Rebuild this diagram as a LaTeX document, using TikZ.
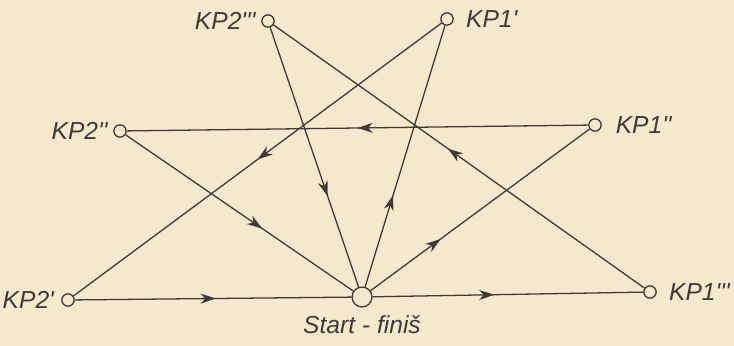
\documentclass[tikz,border=0pt]{standalone}
\usepackage{fontspec}
\setmainfont{Liberation Sans}
\usetikzlibrary{positioning,arrows.meta,decorations.markings}

\definecolor{paper}{HTML}{F4E9CE}
\definecolor{ink}{HTML}{3F3A33}
\newcommand{\pr}{\textquotesingle}

\begin{document}
\begin{tikzpicture}[x=0.03cm, y=-0.03cm, line width=1.1pt, draw=ink,
  cp/.style={circle, draw=ink, fill=paper, inner sep=0pt, minimum size=10.5pt},
  base/.style={circle, draw=ink, fill=paper, inner sep=0pt, minimum size=17pt},
  tag/.style={inner sep=0pt, text=ink, font=\fontsize{21}{22}\selectfont\itshape},
  leg/.style={draw=ink, decoration={markings,
      mark=at position #1 with {\arrow[ink]{Stealth[length=13pt,width=8.5pt,inset=4pt]}}},
      postaction={decorate}}]

  %--- paper
  \fill[paper] (0,0) rectangle (734,346);
  \useasboundingbox (0,0) rectangle (734,346);

  %--- control points and start
  \node[base] (start) at (362,297) {};
  \node[cp] (kp2a) at (68,300) {};
  \node[cp] (kp2b) at (120,131) {};
  \node[cp] (kp2c) at (268,21) {};
  \node[cp] (kp1a) at (447,19) {};
  \node[cp] (kp1b) at (595,125) {};
  \node[cp] (kp1c) at (650,292) {};

  %--- labels
  \node[tag, below=0.22cm of start] (start-l) {Start - finiš};
  \node[tag, left=0.2cm of kp2a] (kp2a-l) {KP2\pr};
  \node[tag, left=0.15cm of kp2b] (kp2b-l) {KP2\pr\pr};
  \node[tag, left=0.15cm of kp2c] (kp2c-l) {KP2\pr\pr\pr};
  \node[tag, right=0.35cm of kp1a] (kp1a-l) {KP1\pr};
  \node[tag, right=0.4cm of kp1b] (kp1b-l) {KP1\pr\pr};
  \node[tag, right=0.35cm of kp1c] (kp1c-l) {KP1\pr\pr\pr};

  %--- first loop
  \draw[leg=0.51] (kp2a) -- (start);
  \draw[leg=0.35] (start) -- (kp1a);
  \draw[leg=0.5] (kp1a) -- (kp2a);

  %--- second loop
  \draw[leg=0.6] (kp2b) -- (start);
  \draw[leg=0.32] (start) -- (kp1b);
  \draw[leg=0.5] (kp1b) -- (kp2b);

  %--- third loop
  \draw[leg=0.45] (start) -- (kp1c);
  \draw[leg=0.53] (kp1c) -- (kp2c);
  \draw[leg=0.65] (kp2c) -- (start);

\end{tikzpicture}
\end{document}
